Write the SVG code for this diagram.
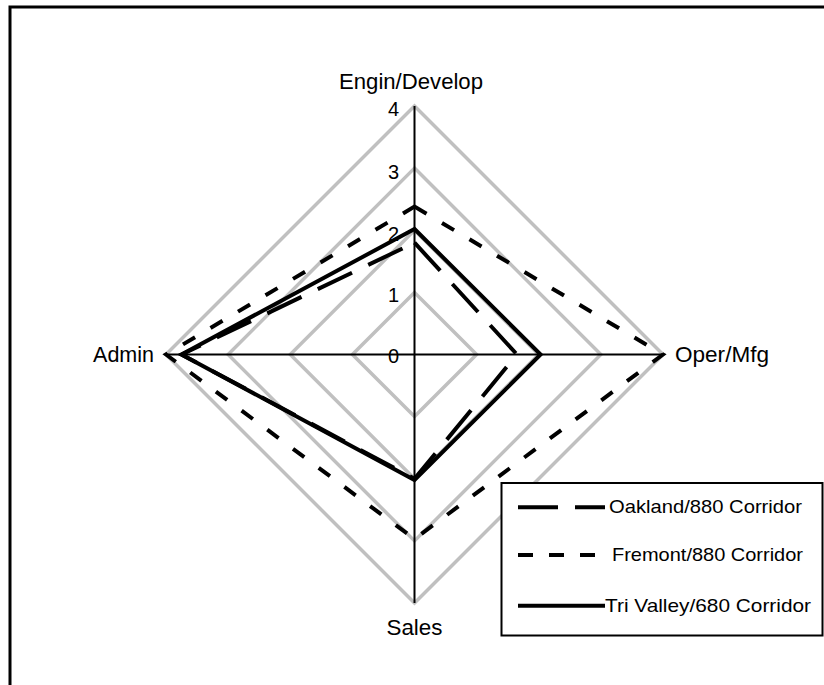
<svg xmlns="http://www.w3.org/2000/svg" width="824" height="685" viewBox="0 0 824 685">
<style>
  .ring { fill: none; stroke: #c0c0c0; stroke-width: 3.5; stroke-linejoin: miter; }
  .axis { stroke: #000; stroke-width: 2; fill: none; }
  .ser { fill: none; stroke: #000; stroke-width: 4; stroke-linejoin: miter; stroke-miterlimit: 10; }
  .oak { stroke-dasharray: 38 18; }
  .fre { stroke-dasharray: 14 18; }
  .lbl { font-family: "Liberation Sans", Arial, sans-serif; font-size: 21.5px; fill: #000; }
  .tick { font-family: "Liberation Sans", Arial, sans-serif; font-size: 20px; fill: #000; text-anchor: end; }
  .leg { font-family: "Liberation Sans", Arial, sans-serif; font-size: 19px; fill: #000; }
</style>
<rect x="0" y="0" width="824" height="685" fill="#fff"/>
<rect id="frame" x="10" y="7" width="830" height="700" fill="#fff" stroke="#000" stroke-width="3"/>
<g id="grid">
  <polygon class="ring" points="414.5,292.4 476.6,354.5 414.5,416.6 352.4,354.5"/>
  <polygon class="ring" points="414.5,230.25 538.75,354.5 414.5,478.75 290.25,354.5"/>
  <polygon class="ring" points="414.5,168.1 600.9,354.5 414.5,540.9 228.1,354.5"/>
  <polygon class="ring" points="414.5,106 663,354.5 414.5,603 166,354.5"/>
</g>
<g id="axes">
  <line class="axis" x1="414.5" y1="106" x2="414.5" y2="603"/>
  <line class="axis" x1="166" y1="354.5" x2="663" y2="354.5"/>
</g>
<g id="ticks">
  <text class="tick" x="399" y="116">4</text>
  <text class="tick" x="399" y="179">3</text>
  <text class="tick" x="399" y="241">2</text>
  <text class="tick" x="399" y="302">1</text>
  <text class="tick" x="399" y="363">0</text>
</g>
<g id="series">
  <polygon id="oakland" class="ser oak" points="414.5,242.7 517,354.5 414.5,478.8 181.5,354.5"/>
  <polygon id="fremont" class="ser fre" points="414.5,206.6 663,354.5 414.5,539 166,354.5"/>
  <polygon id="trivalley" class="ser" points="414.5,229 540.6,354.5 414.5,480 181.5,354.5"/>
</g>
<g id="labels">
  <text id="engin" class="lbl" x="411" y="89" text-anchor="middle" textLength="144" lengthAdjust="spacingAndGlyphs">Engin/Develop</text>
  <text id="oper" class="lbl" x="675" y="362" textLength="94" lengthAdjust="spacingAndGlyphs">Oper/Mfg</text>
  <text id="sales" class="lbl" x="414.5" y="635" text-anchor="middle" textLength="56" lengthAdjust="spacingAndGlyphs">Sales</text>
  <text id="admin" class="lbl" x="154" y="362" text-anchor="end">Admin</text>
</g>
<g id="legend">
  <rect x="501.5" y="483" width="321" height="152.5" fill="#fff" stroke="#000" stroke-width="2"/>
  <line class="ser oak" x1="518" y1="507.3" x2="605" y2="507.3" style="stroke-dasharray:40 17"/>
  <text class="leg" x="609" y="513" textLength="193" lengthAdjust="spacingAndGlyphs">Oakland/880 Corridor</text>
  <line class="ser fre" x1="518" y1="555" x2="595" y2="555" style="stroke-dasharray:15 16"/>
  <text class="leg" x="612" y="561" textLength="191" lengthAdjust="spacingAndGlyphs">Fremont/880 Corridor</text>
  <line class="ser" x1="518" y1="605.7" x2="605" y2="605.7"/>
  <text class="leg" x="605" y="612" textLength="206" lengthAdjust="spacingAndGlyphs">Tri Valley/680 Corridor</text>
</g>
</svg>
